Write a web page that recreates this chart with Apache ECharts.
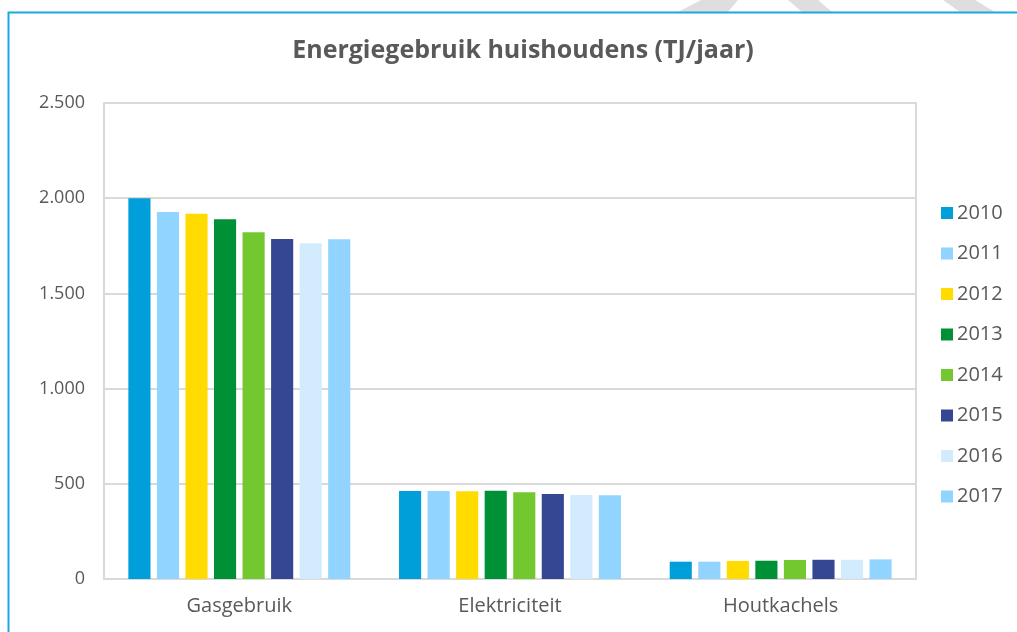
<!DOCTYPE html>
<html>
<head>
<meta charset="utf-8">
<script src="https://cdn.jsdelivr.net/npm/echarts@6/dist/echarts.min.js"></script>
<style>
html,body{margin:0;padding:0;background:#fff;}
#chart{width:1017px;height:632px;}
</style>
</head>
<body>
<div id="chart"></div>
<script>
const title = 'Energiegebruik huishoudens (TJ/jaar)';
const categories = ['Gasgebruik', 'Elektriciteit', 'Houtkachels'];
const years = ['2010', '2011', '2012', '2013', '2014', '2015', '2016', '2017'];
const gasgebruik = [2000, 1928, 1918, 1890, 1821, 1786, 1764, 1784];
const elektriciteit = [462, 462, 461, 464, 455, 447, 441, 440];
const houtkachels = [91, 91, 95, 96, 100, 101, 101, 103];
const yTicks = [0, 500, 1000, 1500, 2000, 2500];
const colors = ['#009fda', '#91d4ff', '#ffdb00', '#009035', '#74c82f', '#354792', '#d3ecfd', '#91d4ff'];

const FONT = 'Open Sans';
const TXT = '#595959';
const GRID = '#d9d9d9';

const series = years.map((y, i) => ({
  name: y,
  type: 'bar',
  data: [gasgebruik[i], elektriciteit[i], houtkachels[i]],
  itemStyle: { color: colors[i] },
  barGap: '29%',
  barCategoryGap: '18%'
}));

const chart = echarts.init(document.getElementById('chart'), null, { renderer: 'canvas' });
chart.setOption({
  backgroundColor: '#ffffff',
  animation: false,
  color: colors,
  title: {
    text: title,
    left: 518, textAlign: 'center',
    top: 33,
    textStyle: { fontFamily: FONT, fontSize: 25, fontWeight: 'bold', color: TXT }
  },
  legend: {
    orient: 'vertical',
    left: 941, top: 203, padding: 0,
    itemWidth: 12, itemHeight: 12, itemGap: 20.5,
    icon: 'rect',
    textStyle: { fontFamily: FONT, fontSize: 20, color: TXT, lineHeight: 20, padding: [0, 0, 0, -1] },
    data: years
  },
  grid: {
    left: 104, right: 101, top: 103, bottom: 53,
    show: true, borderColor: GRID, borderWidth: 2, backgroundColor: 'transparent'
  },
  xAxis: {
    type: 'category',
    data: categories,
    axisLine: { lineStyle: { color: GRID, width: 2 } },
    axisTick: { show: false },
    axisLabel: { fontFamily: FONT, fontSize: 20, color: TXT, margin: 17 }
  },
  yAxis: {
    type: 'value',
    min: yTicks[0], max: yTicks[yTicks.length - 1], interval: yTicks[1] - yTicks[0],
    axisLine: { show: false },
    axisTick: { show: false },
    splitLine: { lineStyle: { color: GRID, width: 2 } },
    axisLabel: {
      fontFamily: FONT, fontSize: 18, color: TXT, margin: 19,
      formatter: v => String(v).replace(/\B(?=(\d{3})+(?!\d))/g, '.')
    }
  },
  graphic: [
    { type: 'polygon', silent: true, shape: { points: [[678, 12], [701, 0], [738, 0], [728, 12]] }, style: { fill: '#dedede' } },
    { type: 'polygon', silent: true, shape: { points: [[788, 0], [818, 0], [832, 12], [802, 12]] }, style: { fill: '#dedede' } },
    { type: 'polygon', silent: true, shape: { points: [[943, 0], [975, 0], [995, 12], [960, 12]] }, style: { fill: '#dedede' } },
    { type: 'polyline', silent: true, shape: { points: [[8.5, 640], [8.5, 12.5], [1020, 12.5]] }, style: { stroke: '#1aa8e0', lineWidth: 2, fill: null } }
  ],
  series: series
});
</script>
</body>
</html>
